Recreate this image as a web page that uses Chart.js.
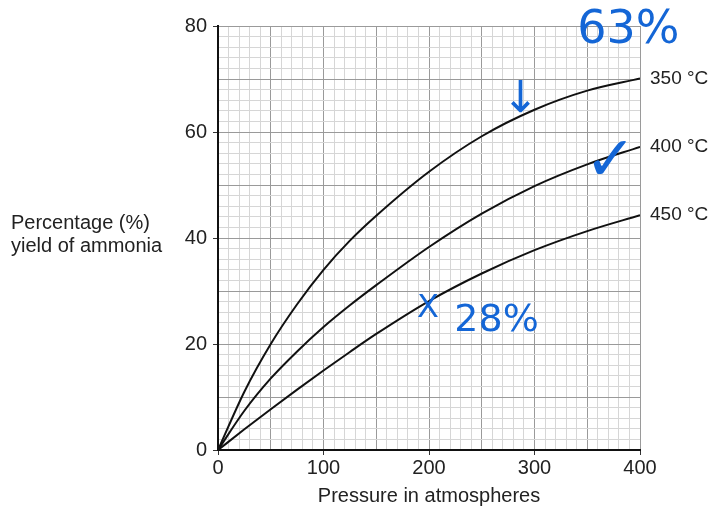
<!DOCTYPE html>
<html>
<head>
<meta charset="utf-8">
<script src="https://cdn.jsdelivr.net/npm/chart.js@4"></script>
<style>
  html, body { margin: 0; padding: 0; background: #fff; }
  #wrap { width: 712px; height: 508px; }
</style>
</head>
<body>
<div id="wrap"><canvas id="c" width="712" height="508"></canvas></div>
<script>
// pressure in atmospheres
var pressures = [0, 25, 50, 75, 100, 125, 150, 200, 250, 300, 350, 400];
// percentage yield of ammonia at each temperature
var yield350 = [0, 11.0, 20.0, 27.5, 34.0, 39.5, 44.2, 52.5, 59.2, 64.2, 67.8, 70.1];
var yield400 = [0, 7.4, 13.5, 18.6, 23.2, 27.3, 31.1, 38.3, 44.6, 49.8, 53.9, 57.2];
var yield450 = [0, 3.9, 7.7, 11.4, 15.0, 18.5, 21.9, 28.1, 33.3, 37.7, 41.3, 44.3];
var seriesLabels = ['350 °C', '400 °C', '450 °C'];
var xTitle = 'Pressure in atmospheres';
var yTitle = ['Percentage (%)', 'yield of ammonia'];

// handwritten marks on the sheet (data coords)
var notes = [
  { text: '63%', x: 389, y: 79, size: 46 },
  { text: '↓', x: 287, y: 66, size: 44 },
  { text: '✓', x: 372, y: 54, size: 62 },
  { text: 'X', x: 199, y: 26.7, size: 32 },
  { text: '28%', x: 264, y: 24.4, size: 38 }
];

var FONT = '"Liberation Sans", Arial, sans-serif';

function toXY(ys) {
  return pressures.map((p, i) => ({ x: p, y: ys[i] }));
}

var lineStyle = {
  borderColor: '#111',
  borderWidth: 2,
  pointRadius: 0,
  fill: false,
  cubicInterpolationMode: 'monotone'
};

var extras = {
  id: 'extras',
  afterDatasetsDraw(chart) {
    const ctx = chart.ctx;
    const xs = chart.scales.x, ys = chart.scales.y;
    ctx.save();
    // curve labels at the right end of each line
    ctx.font = '19px ' + FONT;
    ctx.fillStyle = '#222';
    ctx.textBaseline = 'middle';
    ctx.textAlign = 'left';
    chart.data.datasets.forEach((ds, i) => {
      const last = ds.data[ds.data.length - 1];
      ctx.fillText(seriesLabels[i], xs.getPixelForValue(last.x) + 10, ys.getPixelForValue(last.y));
    });
    // y title, horizontal, two lines
    ctx.font = '20px ' + FONT;
    const mid = (chart.chartArea.top + chart.chartArea.bottom) / 2;
    ctx.fillText(yTitle[0], 11, mid - 15);
    ctx.fillText(yTitle[1], 11, mid + 8);
    // blue pen marks
    ctx.fillStyle = '#1466d6';
    ctx.textAlign = 'center';
    notes.forEach(n => {
      ctx.font = n.size + 'px "DejaVu Sans", sans-serif';
      ctx.fillText(n.text, xs.getPixelForValue(n.x), ys.getPixelForValue(n.y));
    });
    ctx.restore();
  }
};

new Chart(document.getElementById('c'), {
  type: 'line',
  data: {
    datasets: [
      Object.assign({ label: seriesLabels[0], data: toXY(yield350) }, lineStyle),
      Object.assign({ label: seriesLabels[1], data: toXY(yield400) }, lineStyle),
      Object.assign({ label: seriesLabels[2], data: toXY(yield450) }, lineStyle)
    ]
  },
  options: {
    responsive: false,
    animation: false,
    layout: { padding: { left: 0, right: 72, top: 26, bottom: 0 } },
    plugins: { legend: { display: false }, tooltip: { enabled: false } },
    scales: {
      x: {
        type: 'linear',
        min: 0, max: 400,
        afterFit: s => { s.height = 58; },
        ticks: {
          stepSize: 10,
          autoSkip: false,
          maxRotation: 0,
          padding: 1,
          color: '#222',
          font: { family: FONT, size: 20 },
          callback: v => (v % 100 === 0 ? v : '')
        },
        grid: {
          color: c => (c.tick && c.tick.value % 50 === 0 ? '#9a9a9a' : '#d6d6d6'),
          tickColor: c => (c.tick && c.tick.value % 100 === 0 ? '#333' : 'rgba(0,0,0,0)'),
          tickLength: 5,
          lineWidth: 1
        },
        border: { color: '#111', width: 2 },
        title: {
          display: true,
          text: xTitle,
          color: '#222',
          font: { family: FONT, size: 20 },
          padding: { top: 0, bottom: 0 }
        }
      },
      y: {
        min: 0, max: 80,
        afterFit: s => { s.width = 218; },
        ticks: {
          stepSize: 2,
          autoSkip: false,
          padding: 6,
          color: '#222',
          font: { family: FONT, size: 20 },
          callback: v => (v % 20 === 0 ? v : '')
        },
        grid: {
          color: c => (c.tick && c.tick.value % 10 === 0 ? '#9a9a9a' : '#d6d6d6'),
          tickColor: c => (c.tick && c.tick.value % 20 === 0 ? '#333' : 'rgba(0,0,0,0)'),
          tickLength: 5,
          lineWidth: 1
        },
        border: { color: '#111', width: 2 }
      }
    }
  },
  plugins: [extras]
});
</script>
</body>
</html>
